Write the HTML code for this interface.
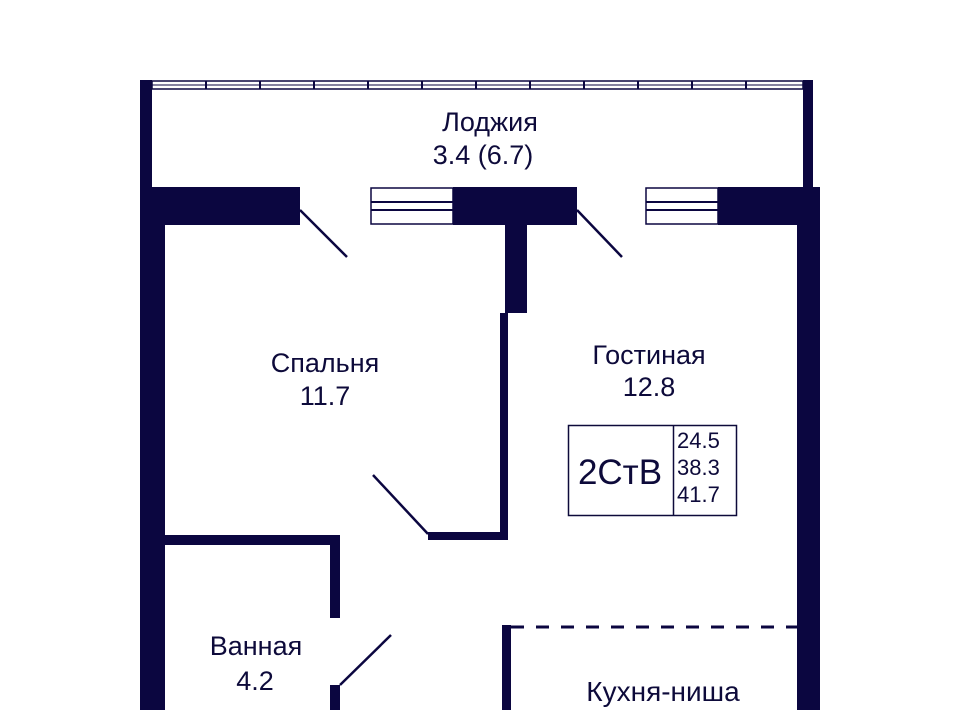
<!DOCTYPE html>
<html><head><meta charset="utf-8"><style>
html,body{margin:0;padding:0;background:#fff;}
svg{display:block}
text{font-family:"Liberation Sans",sans-serif;fill:#0d0a3a;}
</style></head><body>
<svg width="960" height="710" viewBox="0 0 960 710" xmlns="http://www.w3.org/2000/svg">
<g fill="#0b0640" stroke="none">
<rect x="140" y="80" width="12" height="110"/>
<rect x="803" y="80" width="10" height="110"/>
<rect x="140" y="187" width="160" height="38"/>
<rect x="453" y="187" width="124" height="38"/>
<rect x="718" y="187" width="102" height="38"/>
<rect x="505" y="225" width="22" height="88"/>
<rect x="140" y="187" width="25" height="523"/>
<rect x="797" y="187" width="23" height="523"/>
<rect x="500" y="313" width="8" height="227"/>
<rect x="428" y="532" width="80" height="8"/>
<rect x="164" y="535" width="176" height="10"/>
<rect x="330" y="535" width="10" height="83"/>
<rect x="330" y="685" width="10" height="25"/>
<rect x="502" y="625" width="9" height="85"/>
</g>
<rect x="152" y="81" width="651" height="8" fill="#fff" stroke="#0b0640" stroke-width="1.5"/>
<line x1="152" y1="85" x2="803" y2="85" stroke="#0b0640" stroke-width="1"/>
<g stroke="#0b0640" stroke-width="2">
<line x1="206" y1="81" x2="206" y2="89"/><line x1="260" y1="81" x2="260" y2="89"/>
<line x1="314" y1="81" x2="314" y2="89"/><line x1="368" y1="81" x2="368" y2="89"/>
<line x1="422" y1="81" x2="422" y2="89"/><line x1="476" y1="81" x2="476" y2="89"/>
<line x1="530" y1="81" x2="530" y2="89"/><line x1="584" y1="81" x2="584" y2="89"/>
<line x1="638" y1="81" x2="638" y2="89"/><line x1="692" y1="81" x2="692" y2="89"/>
<line x1="746" y1="81" x2="746" y2="89"/>
</g>
<g fill="#fff" stroke="#0b0640" stroke-width="1.5">
<rect x="371" y="188" width="82" height="36"/>
<rect x="646" y="188" width="72" height="36"/>
</g>
<g stroke="#0b0640" stroke-width="2">
<line x1="371" y1="202" x2="453" y2="202"/><line x1="371" y1="210" x2="453" y2="210"/>
<line x1="646" y1="202" x2="718" y2="202"/><line x1="646" y1="210" x2="718" y2="210"/>
</g>
<g stroke="#0b0640" stroke-width="2.5">
<line x1="300" y1="210" x2="347" y2="257"/>
<line x1="577" y1="210" x2="622" y2="257"/>
<line x1="373" y1="475" x2="428" y2="534"/>
<line x1="340" y1="685" x2="391" y2="635"/>
</g>
<line x1="511" y1="627" x2="797" y2="627" stroke="#0b0640" stroke-width="3" stroke-dasharray="13,12"/>
<rect x="568.5" y="425.5" width="168" height="90" fill="none" stroke="#0d0a3a" stroke-width="1.5"/>
<line x1="673.5" y1="425" x2="673.5" y2="516" stroke="#0d0a3a" stroke-width="1.5"/>
<g font-size="27" text-anchor="middle">
<text x="490" y="131">Лоджия</text>
<text x="483" y="164">3.4 (6.7)</text>
<text x="325" y="372">Спальня</text>
<text x="325" y="405">11.7</text>
<text x="649" y="364">Гостиная</text>
<text x="649" y="396">12.8</text>
<text x="256" y="655">Ванная</text>
<text x="255" y="690">4.2</text>
<text x="663" y="701" font-size="28">Кухня-ниша</text>
</g>
<text x="620" y="484" font-size="35" text-anchor="middle">2СтВ</text>
<g font-size="22">
<text x="677" y="448">24.5</text>
<text x="677" y="475">38.3</text>
<text x="677" y="502">41.7</text>
</g>
</svg>
</body></html>
